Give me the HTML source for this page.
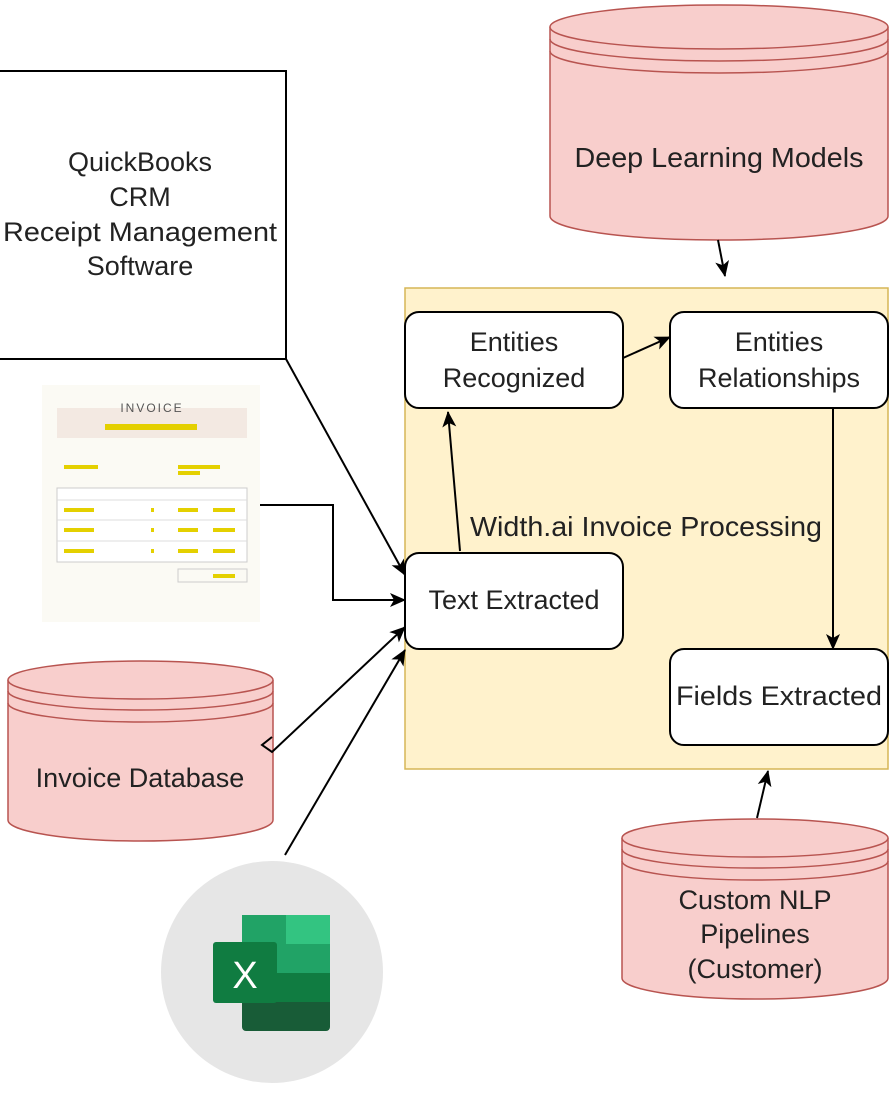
<!DOCTYPE html>
<html><head><meta charset="utf-8"><style>
html,body{margin:0;padding:0;background:#fff;}
svg{display:block;font-family:"Liberation Sans",sans-serif;}
</style></head><body>
<svg width="889" height="1108" viewBox="0 0 889 1108" xmlns="http://www.w3.org/2000/svg">
<defs>
<marker id="a" markerWidth="16" markerHeight="16" refX="15" refY="8" orient="auto" markerUnits="userSpaceOnUse" viewBox="0 0 16 16">
<path d="M0,1 L16,8 L0,15 L4,8 Z" fill="#000"/></marker>
</defs>
<rect x="-2" y="71" width="288" height="288" fill="#fff" stroke="#000" stroke-width="2"/>
<g font-size="27" fill="#222" text-anchor="middle">
<text x="140" y="171">QuickBooks</text>
<text x="140" y="206">CRM</text>
<text x="140" y="241" textLength="274" lengthAdjust="spacingAndGlyphs">Receipt Management</text>
<text x="140" y="275">Software</text>
</g>
<g fill="#f8cecc" stroke="#b85450" stroke-width="1.5">
<path d="M550,27 L550,216 A169,24 0 0 0 888,216 L888,27"/>
<ellipse cx="719" cy="27" rx="169" ry="22"/>
<path d="M550,39 A169,22 0 0 0 888,39" fill="none"/>
<path d="M550,51 A169,22 0 0 0 888,51" fill="none"/>
</g>
<text x="719" y="167" font-size="28" fill="#222" text-anchor="middle" textLength="289" lengthAdjust="spacingAndGlyphs">Deep Learning Models</text>
<rect x="405" y="288" width="483" height="481" fill="#fff2cc" stroke="#d6b656" stroke-width="1.5"/>
<text x="646" y="536" font-size="28" fill="#222" text-anchor="middle" textLength="352" lengthAdjust="spacingAndGlyphs">Width.ai Invoice Processing</text>
<g fill="#fff" stroke="#000" stroke-width="2">
<rect x="405" y="312" width="218" height="96" rx="14"/>
<rect x="670" y="312" width="218" height="96" rx="14"/>
<rect x="405" y="553" width="218" height="96" rx="14"/>
<rect x="670" y="649" width="218" height="96" rx="14"/>
</g>
<g font-size="27" fill="#222" text-anchor="middle">
<text x="514" y="351">Entities</text>
<text x="514" y="387">Recognized</text>
<text x="779" y="351">Entities</text>
<text x="779" y="387">Relationships</text>
<text x="514" y="609">Text Extracted</text>
<text x="779" y="705" textLength="206" lengthAdjust="spacingAndGlyphs">Fields Extracted</text>
</g>
<rect x="42" y="385" width="218" height="237" fill="#fbfaf4"/>
<rect x="57" y="408" width="190" height="30" fill="#f3e9e2"/>
<text x="152" y="412" font-size="12" fill="#555" text-anchor="middle" letter-spacing="2">INVOICE</text>
<rect x="105" y="424" width="92" height="6" fill="#e4d000"/>
<rect x="64" y="465" width="34" height="4" fill="#e4d000"/>
<rect x="178" y="465" width="42" height="4" fill="#e4d000"/>
<rect x="178" y="471" width="22" height="4" fill="#e4d000"/>
<rect x="57" y="488" width="190" height="74" fill="#fff" stroke="#ccc"/>
<line x1="57" y1="500" x2="247" y2="500" stroke="#ddd"/>
<line x1="57" y1="520" x2="247" y2="520" stroke="#ddd"/>
<line x1="57" y1="541" x2="247" y2="541" stroke="#ddd"/>
<g fill="#e4d000">
<rect x="64" y="508" width="30" height="4"/><rect x="151" y="508" width="3" height="4"/><rect x="178" y="508" width="20" height="4"/><rect x="213" y="508" width="22" height="4"/>
<rect x="64" y="528" width="30" height="4"/><rect x="151" y="528" width="3" height="4"/><rect x="178" y="528" width="20" height="4"/><rect x="213" y="528" width="22" height="4"/>
<rect x="64" y="549" width="30" height="4"/><rect x="151" y="549" width="3" height="4"/><rect x="178" y="549" width="20" height="4"/><rect x="213" y="549" width="22" height="4"/>
<rect x="213" y="574" width="22" height="4"/>
</g>
<rect x="178" y="569" width="69" height="13" fill="none" stroke="#ccc"/>
<g fill="#f8cecc" stroke="#b85450" stroke-width="1.5">
<path d="M8,680 L8,820 A132.5,21 0 0 0 273,820 L273,680"/>
<ellipse cx="140.5" cy="680" rx="132.5" ry="19"/>
<path d="M8,691 A132.5,19 0 0 0 273,691" fill="none"/>
<path d="M8,703 A132.5,19 0 0 0 273,703" fill="none"/>
</g>
<text x="140" y="787" font-size="27" fill="#222" text-anchor="middle">Invoice Database</text>
<g fill="#f8cecc" stroke="#b85450" stroke-width="1.5">
<path d="M622,838 L622,978 A133,21 0 0 0 888,978 L888,838"/>
<ellipse cx="755" cy="838" rx="133" ry="19"/>
<path d="M622,849 A133,19 0 0 0 888,849" fill="none"/>
<path d="M622,861 A133,19 0 0 0 888,861" fill="none"/>
</g>
<g font-size="27" fill="#222" text-anchor="middle">
<text x="755" y="909">Custom NLP</text>
<text x="755" y="943">Pipelines</text>
<text x="755" y="978">(Customer)</text>
</g>
<circle cx="272" cy="972" r="111" fill="#e6e6e6"/>
<rect x="242" y="915" width="88" height="116" rx="4" fill="#185c37"/>
<rect x="242" y="915" width="88" height="58" fill="#21a366"/>
<rect x="286" y="915" width="44" height="29" fill="#33c481"/>
<rect x="286" y="944" width="44" height="29" fill="#21a366"/>
<rect x="242" y="973" width="88" height="29" fill="#107c41"/>
<rect x="213" y="942" width="64" height="61" rx="3" fill="#107c41"/>
<text x="245" y="988" font-size="38" fill="#fff" text-anchor="middle">X</text>
<g stroke="#000" stroke-width="2" fill="none" marker-end="url(#a)">
<line x1="718" y1="240" x2="725" y2="276"/>
<line x1="623" y1="358" x2="670" y2="337"/>
<line x1="833" y1="408" x2="833" y2="649"/>
<line x1="460" y1="551" x2="448" y2="412"/>
<line x1="286" y1="359" x2="405" y2="575"/>
<polyline points="260,505 333,505 333,600 405,600"/>
<path d="M272,737 L262,745 L272,752 L405,627"/>
<line x1="285" y1="855" x2="405" y2="650"/>
<line x1="757" y1="818" x2="768" y2="771"/>
</g>
</svg>
</body></html>
